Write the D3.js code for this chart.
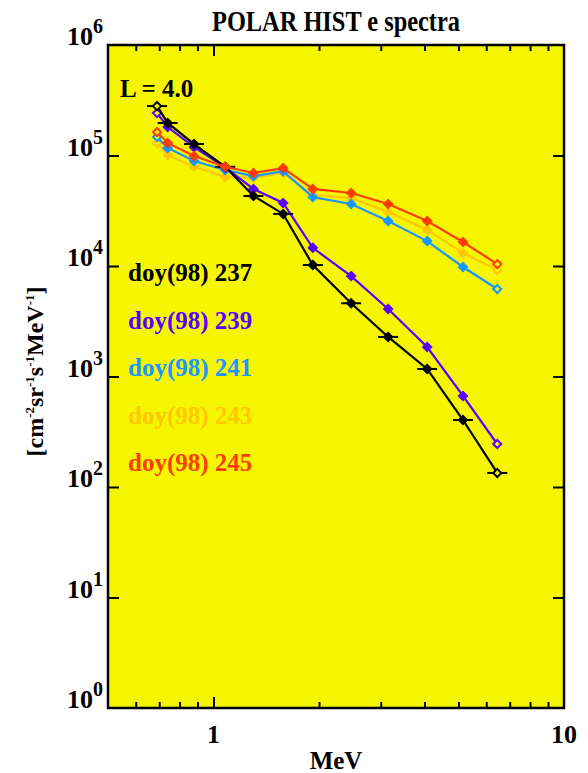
<!DOCTYPE html>
<html>
<head>
<meta charset="utf-8">
<script src="https://cdn.jsdelivr.net/npm/d3@7"></script>
<style>
  body { margin: 0; background: #fff; }
  text { font-family: "Liberation Serif", "Times New Roman", serif; font-weight: bold; }
</style>
</head>
<body>
<svg id="chart" width="588" height="773"></svg>
<script>
// energy channel centres (MeV)
const energy = [0.69, 0.74, 0.88, 1.08, 1.30, 1.58, 1.92, 2.47, 3.15, 4.07, 5.15, 6.45];
const doy237 = [2.8e5, 1.97e5, 1.27e5, 7.9e4, 4.3e4, 2.96e4, 1.02e4, 4.6e3, 2.28e3, 1.17e3, 404, 134];
const doy239 = [2.42e5, 1.81e5, 1.19e5, 7.8e4, 4.98e4, 3.72e4, 1.46e4, 8.1e3, 4.08e3, 1.85e3, 667, 245];
const doy241 = [1.47e5, 1.17e5, 8.9e4, 7.4e4, 6.5e4, 7.2e4, 4.2e4, 3.64e4, 2.55e4, 1.68e4, 9.8e3, 6.19e3];
const doy243 = [1.30e5, 1.01e5, 7.9e4, 6.4e4, 6.25e4, 6.95e4, 4.39e4, 4.12e4, 3.08e4, 2.12e4, 1.31e4, 9.2e3];
const doy245 = [1.63e5, 1.30e5, 9.9e4, 7.9e4, 6.95e4, 7.7e4, 4.98e4, 4.58e4, 3.64e4, 2.55e4, 1.65e4, 1.04e4];
const seriesNames = ["doy(98) 237", "doy(98) 239", "doy(98) 241", "doy(98) 243", "doy(98) 245"];
const seriesColors = ["#000000", "#5a00ff", "#1a96ff", "#ffc800", "#ff3c00"];
const xTickLabels = ["1", "10"];
const yExponents = [0, 1, 2, 3, 4, 5, 6];

const series = [doy237, doy239, doy241, doy243, doy245].map((v, i) => ({
  name: seriesNames[i], color: seriesColors[i], values: v, idx: i
}));

const margin = { left: 108, right: 24, top: 45, bottom: 65 };
const W = 588, H = 773;
const bg = "#f6f600";
const svg = d3.select("#chart");

const x = d3.scaleLog().domain([0.5, 10]).range([margin.left, W - margin.right]);
const y = d3.scaleLog().domain([1, 1e6]).range([H - margin.bottom, margin.top]);

// plot background
svg.append("rect")
  .attr("x", x.range()[0]).attr("y", y.range()[1])
  .attr("width", x.range()[1] - x.range()[0])
  .attr("height", y.range()[0] - y.range()[1])
  .attr("fill", bg);

// x ticks (minor + major), top and bottom, pointing inward
const xMinor = [0.6, 0.7, 0.8, 0.9, 2, 3, 4, 5, 6, 7, 8, 9];
const xMajor = [1];
function xTicks(axisFn, ty) {
  svg.append("g").attr("transform", `translate(0,${ty})`)
    .call(axisFn(x).tickValues(xMinor).tickSize(-6).tickFormat(""))
    .call(g => g.select(".domain").remove());
  svg.append("g").attr("transform", `translate(0,${ty})`)
    .call(axisFn(x).tickValues(xMajor).tickSize(-11).tickFormat(""))
    .call(g => g.select(".domain").remove());
}
xTicks(d3.axisBottom, y.range()[0]);
xTicks(d3.axisTop, y.range()[1]);

// y ticks left and right
const yMajor = yExponents.slice(1, -1).map(e => Math.pow(10, e));
svg.append("g").attr("transform", `translate(${x.range()[0]},0)`)
  .call(d3.axisLeft(y).tickValues(yMajor).tickSize(-11).tickFormat(""))
  .call(g => g.select(".domain").remove());
svg.append("g").attr("transform", `translate(${x.range()[1]},0)`)
  .call(d3.axisRight(y).tickValues(yMajor).tickSize(-11).tickFormat(""))
  .call(g => g.select(".domain").remove());
svg.selectAll(".tick line").attr("stroke", "#000").attr("stroke-width", 2);

// y labels 10^n
const yl = svg.append("g");
yExponents.forEach(e => {
  const t = yl.append("text")
    .attr("x", x.range()[0] - 5)
    .attr("y", y(Math.pow(10, e)))
    .attr("text-anchor", "end")
    .attr("font-size", 26);
  t.append("tspan").text("10");
  t.append("tspan").attr("dy", -12).attr("font-size", 20).text(String(e));
});

// x labels
xTickLabels.forEach(s => {
  svg.append("text")
    .attr("x", x(+s)).attr("y", y.range()[0] + 35)
    .attr("text-anchor", "middle").attr("font-size", 26).text(s);
});
svg.append("text")
  .attr("x", (x.range()[0] + x.range()[1]) / 2).attr("y", H - 4)
  .attr("text-anchor", "middle").attr("font-size", 25).text("MeV");

// title
svg.append("text")
  .attr("x", (x.range()[0] + x.range()[1]) / 2).attr("y", 31)
  .attr("text-anchor", "middle").attr("font-size", 29)
  .attr("textLength", 248).attr("lengthAdjust", "spacingAndGlyphs")
  .text("POLAR HIST e spectra");

// y axis title
const yt = svg.append("text")
  .attr("transform", `translate(43,${(y.range()[0] + y.range()[1]) / 2 - 5}) rotate(-90)`)
  .attr("text-anchor", "middle").attr("font-size", 24);
yt.append("tspan").text("[cm");
yt.append("tspan").attr("dy", -9).attr("font-size", 13).text("-2");
yt.append("tspan").attr("dy", 9).text("sr");
yt.append("tspan").attr("dy", -9).attr("font-size", 13).text("-1");
yt.append("tspan").attr("dy", 9).text("s");
yt.append("tspan").attr("dy", -9).attr("font-size", 13).text("-1");
yt.append("tspan").attr("dy", 9).text("MeV");
yt.append("tspan").attr("dy", -9).attr("font-size", 13).text("-1");
yt.append("tspan").attr("dy", 9).text("]");

// series
const line = d3.line().x((d, i) => x(energy[i])).y(d => y(d));
const diamond = d3.symbol().type(d3.symbolDiamond2).size(42);
const drawOrder = [3, 2, 1, 0, 4];
const errFactor = 1.068; // half width of the energy bin bars for doy 237

drawOrder.forEach(k => {
  const s = series[k];
  const g = svg.append("g");
  g.append("path")
    .attr("d", line(s.values))
    .attr("fill", "none")
    .attr("stroke", s.color)
    .attr("stroke-width", 2.2);
  if (k === 0) {
    g.selectAll("line.err").data(s.values).join("line")
      .attr("x1", (d, i) => x(energy[i] / errFactor))
      .attr("x2", (d, i) => x(energy[i] * errFactor))
      .attr("y1", d => y(d)).attr("y2", d => y(d))
      .attr("stroke", s.color).attr("stroke-width", 2);
  }
  const n = s.values.length;
  g.selectAll("path.pt").data(s.values).join("path")
    .attr("class", "pt")
    .attr("transform", (d, i) => `translate(${x(energy[i])},${y(d)})`)
    .attr("d", diamond)
    .attr("fill", (d, i) => (i === 0 || i === n - 1) ? bg : s.color)
    .attr("stroke", s.color)
    .attr("stroke-width", 2);
});

// frame
svg.append("rect")
  .attr("x", x.range()[0]).attr("y", y.range()[1])
  .attr("width", x.range()[1] - x.range()[0])
  .attr("height", y.range()[0] - y.range()[1])
  .attr("fill", "none").attr("stroke", "#000").attr("stroke-width", 2.5);

// annotation + legend
svg.append("text").attr("x", 120).attr("y", 97).attr("font-size", 25).text("L = 4.0");
svg.selectAll("text.leg").data(series).join("text")
  .attr("class", "leg")
  .attr("x", 128)
  .attr("y", (d, i) => 281 + i * 47.5)
  .attr("font-size", 25)
  .attr("fill", d => d.color)
  .text(d => d.name);
</script>
</body>
</html>
